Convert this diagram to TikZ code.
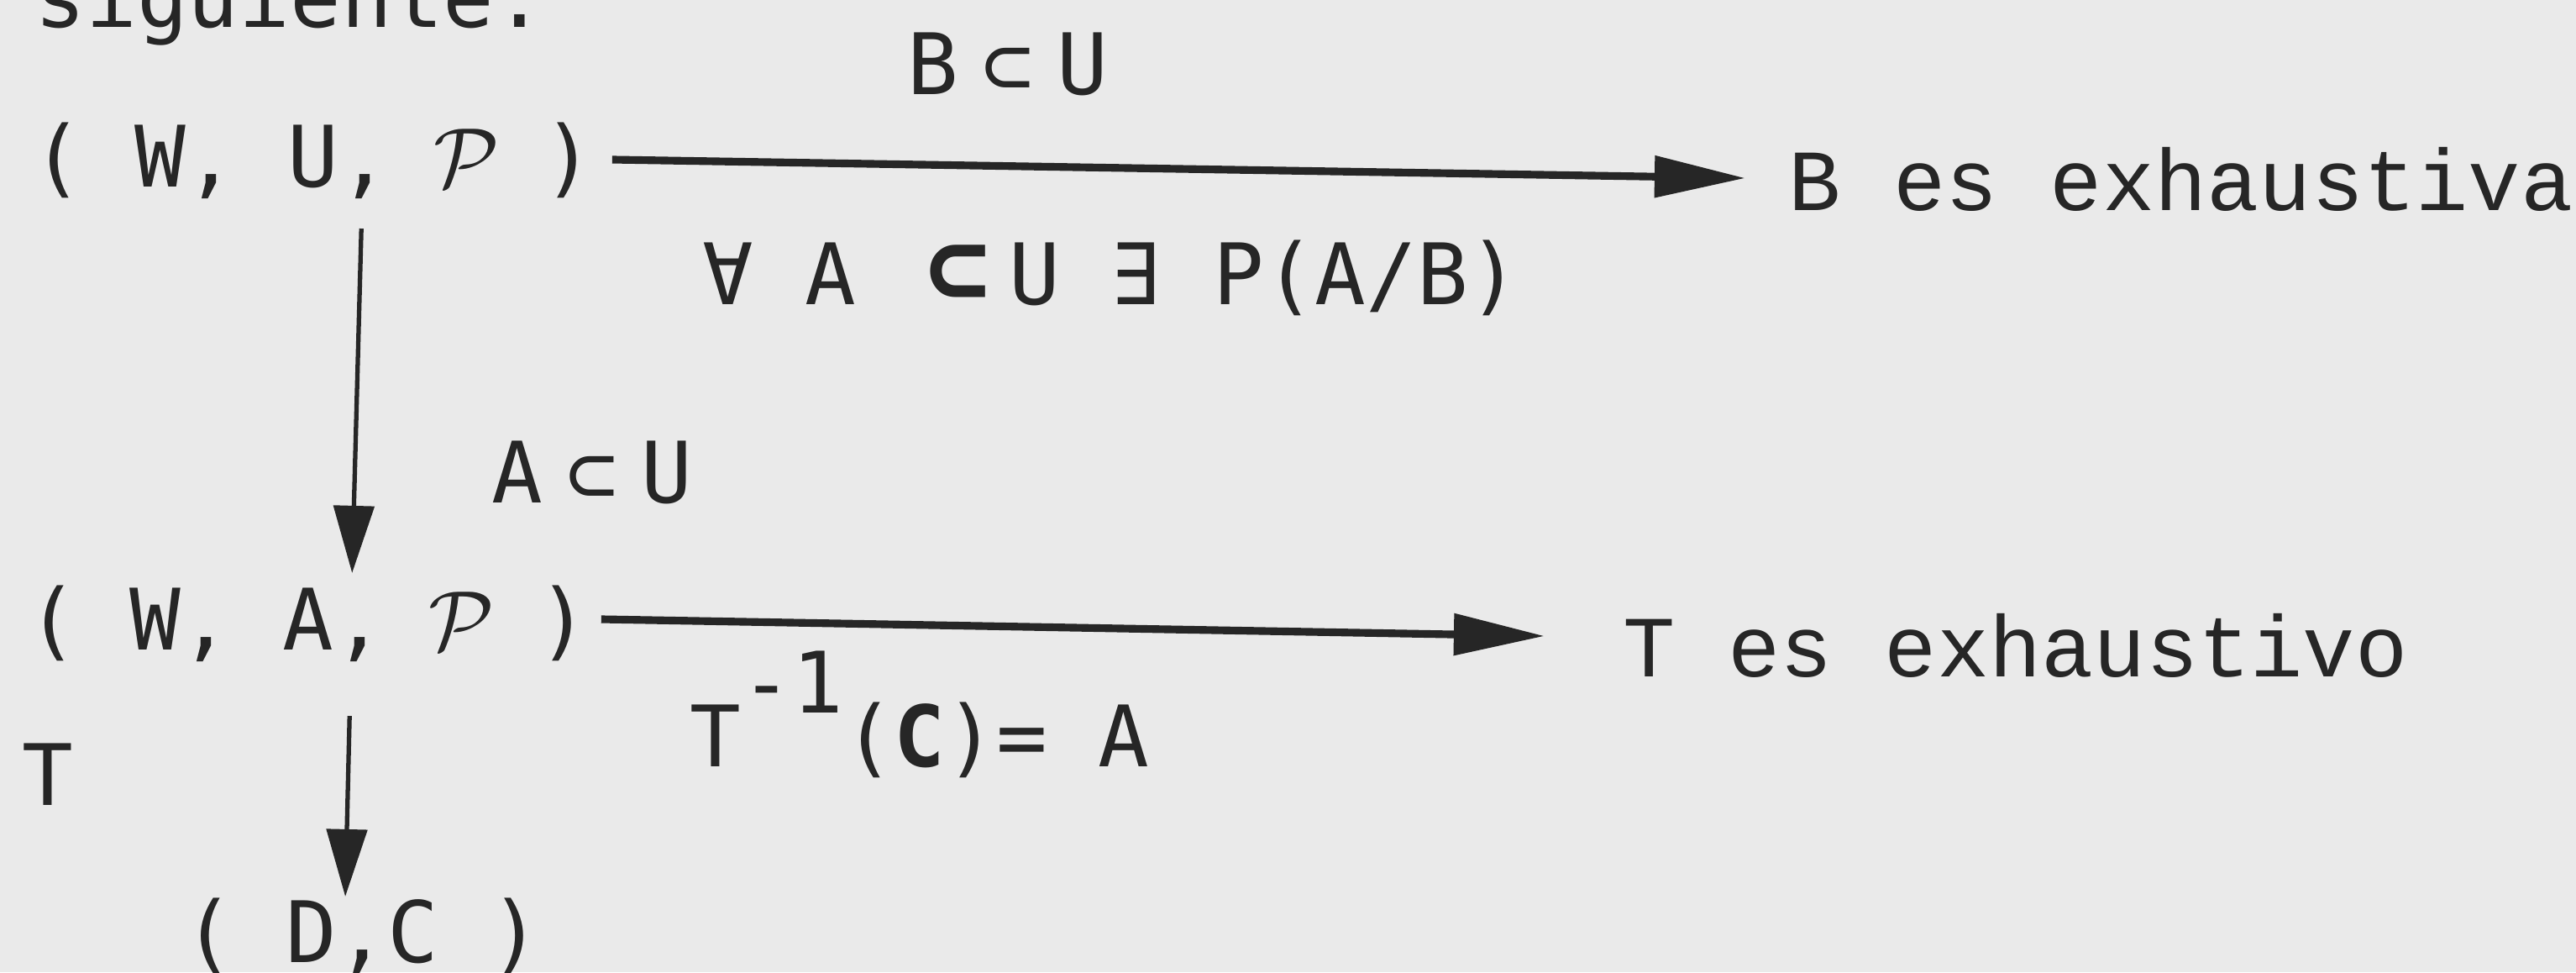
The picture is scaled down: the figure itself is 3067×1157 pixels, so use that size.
\documentclass[tikz,border=0pt]{standalone}
\usepackage{fontspec}
\newfontfamily\typefont{DejaVu Sans Mono}
\newfontfamily\courfont{Liberation Mono}
\usetikzlibrary{arrows.meta,positioning}
\definecolor{paper}{RGB}{234,234,234}
\definecolor{ink}{RGB}{38,38,38}
\newcommand{\cell}[1]{\makebox[0.602em][c]{#1}}
\tikzset{
  typed/.style={font=\typefont\fontsize{28.7}{30}\selectfont\frenchspacing, text=ink, inner sep=0pt, anchor=base west},
  typedcour/.style={font=\courfont\fontsize{29.5}{31}\selectfont\frenchspacing, text=ink, inner sep=0pt, anchor=base west},
  harrow/.style={draw=ink, line width=2.6pt, -{Triangle[length=1.08cm,width=0.48cm]}},
  varrow/.style={draw=ink, line width=1.5pt, -{Triangle[length=0.8cm,width=0.48cm]}},
}

\begin{document}
\begin{tikzpicture}[x=0.01cm, y=-0.01cm]
    % Define the page
    \useasboundingbox (0,0) rectangle (3067,1157);
    \fill[paper] (0,0) rectangle (3067,1157);

    % Line cut off at the top
    \node[typed] (sig) at (41,32) {siguiente:};

    % The spaces
    \node[typed] (wup) at (38,222) {( W, U, \cell{\scalebox{1.15}{$\mathcal{P}$}} )};
    \node[typed] (wap) at (32,773) {( W, A, \cell{\scalebox{1.15}{$\mathcal{P}$}} )};
    \node[typed] (dc) at (218,1145) {( D,C )};
    \node[typed] (tmap) at (26,958) {T};

    % Conditions on the arrows
    \node[typed] (bsub) at (1080,112) {B\hspace{0.28cm}⊂\hspace{0.28cm}U};
    \node[typed] (forall) at (836,362) {∀ A\makebox[1.806em][c]{\hspace{0.602em}{\fontsize{36}{36}\selectfont\bfseries ⊂}}U ∃ P(A/B)};
    \node[typed] (asub) at (585,598) {A\hspace{0.28cm}⊂\hspace{0.28cm}U};
    \node[typed] (tinv) at (821,912) {T\raisebox{0.63cm}{-1}(\textbf{C})= A};

    % Results
    \node[typedcour] (bex) at (2129,250) {B es exhaustiva};
    \node[typedcour] (tex) at (1932,805) {T es exhaustivo};

    % Draw the arrows
    \draw[harrow] ([xshift=0.21cm,yshift=0.32cm]wup.base east) -- ([xshift=-0.51cm,yshift=0.38cm]bex.base west);
    \draw[harrow] ([xshift=0.14cm,yshift=0.36cm]wap.base east) -- ([xshift=-0.93cm,yshift=0.48cm]tex.base west);
    \draw[varrow] ([xshift=3.92cm,yshift=-0.5cm]wup.base west) -- ([xshift=3.87cm,yshift=0.91cm]wap.base west);
    \draw[varrow] ([xshift=3.84cm,yshift=-0.79cm]wap.base west) -- ([xshift=1.93cm,yshift=0.78cm]dc.base west);
\end{tikzpicture}
\end{document}
